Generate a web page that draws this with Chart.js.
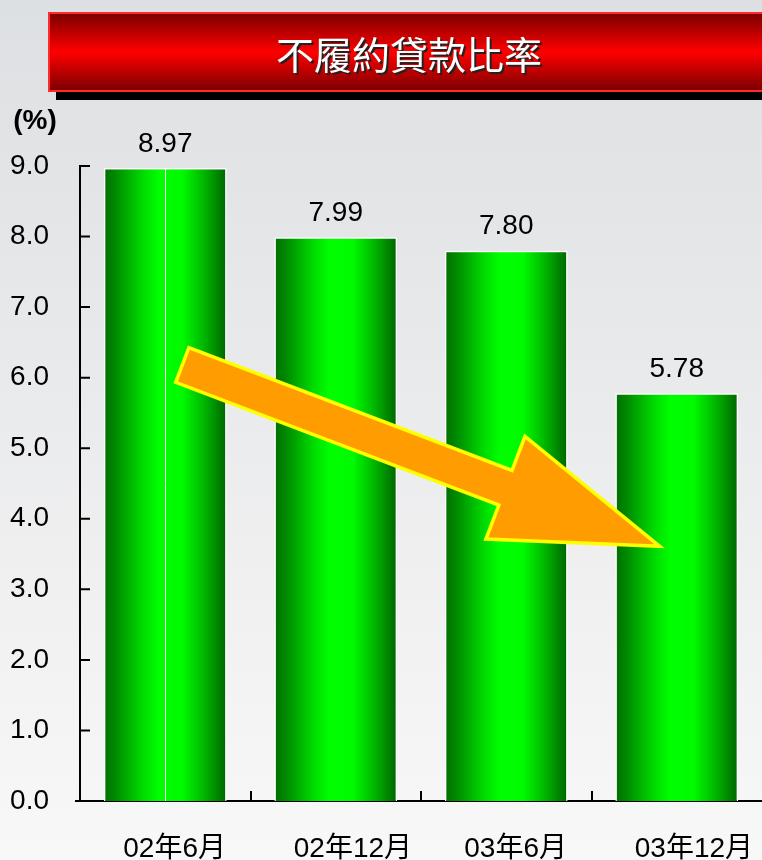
<!DOCTYPE html>
<html>
<head>
<meta charset="utf-8">
<script src="https://cdn.jsdelivr.net/npm/chart.js@4"></script>
<style>
  html, body { margin: 0; padding: 0; background: #e4e6e8; }
  #wrap { width: 762px; height: 860px; }
</style>
</head>
<body>
<div id="wrap"><canvas id="nplChart" width="762" height="860"></canvas></div>
<script>
// Data
const categories = ['02年6月', '02年12月', '03年6月', '03年12月'];
const nplRatio = [8.97, 7.99, 7.80, 5.78];
const yTicks = [0, 1, 2, 3, 4, 5, 6, 7, 8, 9];
const chartTitle = '不履約貸款比率';
const unitLabel = '(%)';

// Arrow annotation (category index, value)
const arrowTail = [0.1, 6.18];
const arrowTip = [2.9, 3.61];

const FONT = "'Liberation Sans', Arial, 'Noto Sans CJK TC', sans-serif";

function barGradient(ctx, x0, x1) {
    const g = ctx.createLinearGradient(x0, 0, x1, 0);
    g.addColorStop(0, '#006e00');
    g.addColorStop(0.1, '#008c00');
    g.addColorStop(0.32, '#00dc00');
    g.addColorStop(0.45, '#00ff00');
    g.addColorStop(0.64, '#00fa00');
    g.addColorStop(0.82, '#00b400');
    g.addColorStop(1, '#006400');
    return g;
}

// Background, banner and unit label
const backdropPlugin = {
    id: 'backdrop',
    beforeDraw(chart) {
        const ctx = chart.ctx;
        const w = chart.width, h = chart.height;
        ctx.save();
        const bg = ctx.createLinearGradient(0, 0, 0, h);
        bg.addColorStop(0, '#dde0e3');
        bg.addColorStop(0.2, '#e3e4e6');
        bg.addColorStop(1, '#f8f8f8');
        ctx.fillStyle = bg;
        ctx.fillRect(0, 0, w, h);

        // shadow under banner
        ctx.fillStyle = '#000';
        ctx.fillRect(56, 90, w - 56, 10);

        // banner
        const rg = ctx.createLinearGradient(0, 13, 0, 91);
        rg.addColorStop(0, '#7a0000');
        rg.addColorStop(0.5, '#ff0000');
        rg.addColorStop(1, '#7a0000');
        ctx.fillStyle = rg;
        ctx.fillRect(48, 12, w - 48, 80);
        ctx.strokeStyle = '#ff2a2a';
        ctx.lineWidth = 2;
        ctx.strokeRect(49, 13, w - 47, 78);

        ctx.font = "38px 'Noto Sans CJK TC', sans-serif";
        ctx.textAlign = 'center';
        ctx.textBaseline = 'middle';
        ctx.fillStyle = '#222';
        ctx.fillText(chartTitle, 411, 57);
        ctx.fillStyle = '#fff';
        ctx.fillText(chartTitle, 409, 55);

        ctx.font = 'bold 28px ' + FONT;
        ctx.fillStyle = '#000';
        ctx.fillText(unitLabel, 35, 121);
        ctx.restore();
    }
};

// Inward tick marks, value labels, arrow
const overlayPlugin = {
    id: 'overlay',
    afterDatasetsDraw(chart) {
        const ctx = chart.ctx;
        const xs = chart.scales.x, ys = chart.scales.y;
        const area = chart.chartArea;
        const bars = chart.getDatasetMeta(0).data;
        ctx.save();

        // first bar highlight line
        ctx.strokeStyle = '#ffffff';
        ctx.lineWidth = 1;
        ctx.beginPath();
        ctx.moveTo(Math.round(bars[0].x) + 0.5, bars[0].y);
        ctx.lineTo(Math.round(bars[0].x) + 0.5, bars[0].base);
        ctx.stroke();

        // tick marks
        ctx.strokeStyle = '#000';
        ctx.lineWidth = 2;
        ctx.beginPath();
        yTicks.forEach(v => {
            const y = ys.getPixelForValue(v);
            ctx.moveTo(area.left, y);
            ctx.lineTo(area.left + 10, y);
        });
        for (let i = 1; i < categories.length; i++) {
            const x = Math.round((xs.getPixelForValue(i - 1) + xs.getPixelForValue(i)) / 2);
            ctx.moveTo(x, area.bottom);
            ctx.lineTo(x, area.bottom - 10);
        }
        ctx.moveTo(area.left - 5, area.bottom);
        ctx.lineTo(area.left, area.bottom);
        ctx.stroke();

        // value labels
        ctx.font = '28px ' + FONT;
        ctx.fillStyle = '#000';
        ctx.textAlign = 'center';
        ctx.textBaseline = 'middle';
        bars.forEach((bar, i) => {
            ctx.fillText(nplRatio[i].toFixed(2), bar.x, bar.y - 24);
        });

        // arrow
        const tx = xs.getPixelForValue(arrowTail[0]), ty = ys.getPixelForValue(arrowTail[1]);
        const px = xs.getPixelForValue(arrowTip[0]), py = ys.getPixelForValue(arrowTip[1]);
        const len = Math.hypot(px - tx, py - ty);
        const dx = (px - tx) / len, dy = (py - ty) / len;
        const nx = -dy, ny = dx;
        const headLen = 165, shaftHalf = 18.5, headHalf = 55;
        const local = [
            [0, -shaftHalf], [len - headLen, -shaftHalf], [len - headLen, -headHalf],
            [len, 0], [len - headLen, headHalf], [len - headLen, shaftHalf], [0, shaftHalf]
        ];
        ctx.beginPath();
        local.forEach(([u, v], k) => {
            const X = tx + u * dx + v * nx;
            const Y = ty + u * dy + v * ny;
            if (k === 0) ctx.moveTo(X, Y); else ctx.lineTo(X, Y);
        });
        ctx.closePath();
        ctx.fillStyle = '#ff9c00';
        ctx.fill();
        ctx.lineWidth = 3.5;
        ctx.lineJoin = 'miter';
        ctx.strokeStyle = '#ffff00';
        ctx.stroke();

        ctx.restore();
    }
};

const BAR_PCT = 0.72;

new Chart(document.getElementById('nplChart'), {
    type: 'bar',
    data: {
        labels: categories,
        datasets: [{
            data: nplRatio,
            backgroundColor: (c) => {
                const chart = c.chart;
                if (!chart.chartArea || c.dataIndex === undefined) return '#00cc00';
                const xs = chart.scales.x;
                const cx = xs.getPixelForValue(c.dataIndex);
                const half = (chart.chartArea.width / categories.length) * BAR_PCT / 2;
                return barGradient(chart.ctx, cx - half, cx + half);
            },
            borderColor: '#ffffff',
            borderWidth: 1.5,
            borderSkipped: 'bottom',
            barPercentage: BAR_PCT,
            categoryPercentage: 1
        }]
    },
    options: {
        responsive: false,
        animation: false,
        layout: { padding: { top: 166, left: 0, right: 0, bottom: 0 } },
        plugins: {
            legend: { display: false },
            tooltip: { enabled: false }
        },
        scales: {
            x: {
                offset: true,
                grid: { display: false },
                border: { display: true, color: '#000', width: 2 },
                ticks: {
                    color: '#000',
                    font: { family: FONT, size: 28 },
                    padding: 23,
                    align: 'start',
                    labelOffset: -42,
                    maxRotation: 0
                },
                afterFit(scale) {
                    scale.height = 59;
                    scale.paddingLeft = 0;
                    scale.paddingRight = 0;
                }
            },
            y: {
                min: 0,
                max: 9,
                grid: { display: false },
                border: { display: true, color: '#000', width: 2 },
                ticks: {
                    stepSize: 1,
                    color: '#000',
                    font: { family: FONT, size: 28 },
                    padding: 23,
                    callback: v => Number(v).toFixed(1)
                },
                afterFit(scale) { scale.width = 80; }
            }
        }
    },
    plugins: [backdropPlugin, overlayPlugin]
});
</script>
</body>
</html>
